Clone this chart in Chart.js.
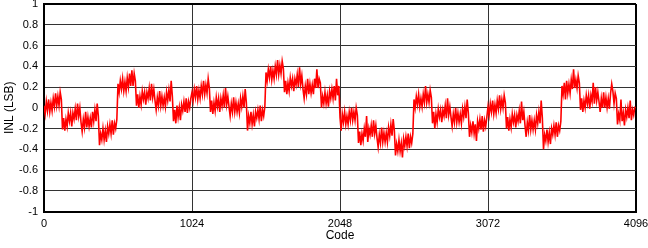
<!DOCTYPE html>
<html>
<head>
<meta charset="utf-8">
<script src="https://cdn.jsdelivr.net/npm/chart.js@4"></script>
<style>
  body { margin: 0; background: #fff; }
</style>
</head>
<body>
<canvas id="inl" width="648" height="248"></canvas>
<script>
// INL, one value every 8 codes (16 per 128-code segment)
const codeStep = 8;

const inlQ1 = [
  0.02, -0.06, 0.06, -0.03, 0.08, -0.04, 0.05, -0.03, 0.09, 0.01, 0.14, 0.02, 0.11, 0.02, 0.15, 0.08,
  -0.21, -0.10, -0.22, -0.11, -0.18, -0.05, -0.13, -0.05, -0.18, -0.05, -0.11, -0.01, -0.12, 0.04, -0.08, 0.00,
  -0.14, -0.23, -0.11, -0.19, -0.04, -0.19, -0.09, -0.18, -0.10, -0.19, -0.04, -0.13, -0.02, -0.13, 0.04, -0.08,
  -0.36, -0.25, -0.31, -0.20, -0.31, -0.22, -0.33, -0.18, -0.25, -0.16, -0.25, -0.12, -0.26, -0.15, -0.20, -0.11,
  0.23, 0.15, 0.26, 0.18, 0.28, 0.16, 0.25, 0.16, 0.29, 0.20, 0.33, 0.21, 0.36, 0.21, 0.33, 0.26,
  0.02, 0.13, 0.00, 0.11, 0.03, 0.16, 0.08, 0.15, 0.03, 0.15, 0.09, 0.19, 0.07, 0.23, 0.10, 0.18,
  0.07, -0.02, 0.10, 0.02, 0.16, 0.02, 0.11, 0.02, 0.10, 0.01, 0.15, 0.07, 0.17, 0.06, 0.26, 0.11,
  -0.13, -0.02, -0.15, 0.02, -0.09, 0.00, -0.12, 0.03, -0.03, 0.06, -0.04, 0.09, -0.05, 0.06, 0.00, 0.09
];
const inlQ2 = [
  0.15, 0.07, 0.18, 0.10, 0.21, 0.08, 0.17, 0.09, 0.21, 0.13, 0.26, 0.13, 0.22, 0.14, 0.28, 0.19,
  -0.04, 0.07, -0.06, 0.05, -0.03, 0.10, 0.01, 0.09, -0.04, 0.09, 0.02, 0.12, 0.00, 0.19, 0.03, 0.11,
  0.01, -0.08, 0.04, -0.04, 0.10, -0.04, 0.05, -0.04, 0.04, -0.05, 0.09, 0.01, 0.11, 0.00, 0.18, 0.05,
  -0.22, -0.08, -0.15, -0.04, -0.16, -0.07, -0.18, -0.04, -0.10, -0.02, -0.11, 0.02, -0.13, -0.02, -0.08, 0.01,
  0.34, 0.26, 0.37, 0.29, 0.40, 0.27, 0.36, 0.28, 0.40, 0.32, 0.46, 0.32, 0.41, 0.33, 0.45, 0.38,
  0.15, 0.26, 0.13, 0.24, 0.16, 0.29, 0.21, 0.28, 0.16, 0.28, 0.22, 0.32, 0.20, 0.39, 0.23, 0.31,
  0.18, 0.09, 0.21, 0.13, 0.28, 0.13, 0.23, 0.14, 0.22, 0.13, 0.28, 0.19, 0.37, 0.19, 0.28, 0.24,
  0.00, 0.11, 0.04, 0.15, 0.04, 0.12, 0.01, 0.16, 0.09, 0.18, 0.09, 0.21, 0.07, 0.28, 0.12, 0.21
];
const inlQ3 = [
  -0.09, -0.22, -0.06, -0.14, -0.04, -0.16, -0.08, -0.16, -0.04, -0.12, 0.00, -0.12, -0.04, -0.12, 0.00, -0.07,
  -0.34, -0.23, -0.36, -0.25, -0.32, -0.20, -0.28, -0.08, -0.33, -0.20, -0.26, -0.17, -0.28, -0.12, -0.25, -0.17,
  -0.29, -0.38, -0.26, -0.34, -0.19, -0.33, -0.24, -0.33, -0.24, -0.33, -0.19, -0.27, -0.16, -0.27, -0.11, -0.22,
  -0.46, -0.35, -0.42, -0.31, -0.42, -0.34, -0.48, -0.30, -0.37, -0.28, -0.37, -0.25, -0.39, -0.28, -0.34, -0.25,
  0.08, 0.00, 0.11, 0.03, 0.13, 0.01, 0.09, 0.01, 0.13, 0.05, 0.21, 0.05, 0.13, 0.05, 0.17, 0.10,
  -0.15, -0.04, -0.20, -0.06, -0.14, -0.01, -0.09, -0.02, -0.14, -0.02, -0.08, 0.02, -0.10, 0.09, -0.07, 0.01,
  -0.09, -0.18, -0.06, -0.14, 0.00, -0.14, -0.05, -0.14, -0.06, -0.15, -0.01, -0.09, 0.01, -0.10, 0.08, -0.05,
  -0.28, -0.17, -0.24, -0.13, -0.25, -0.16, -0.32, -0.13, -0.20, -0.11, -0.21, -0.08, -0.23, -0.12, -0.18, -0.09
];
const inlQ4 = [
  0.01, -0.07, 0.04, -0.04, 0.07, -0.06, 0.03, -0.05, 0.07, -0.01, 0.12, -0.01, 0.08, 0.00, 0.12, 0.05,
  -0.20, -0.09, -0.22, -0.11, -0.19, -0.06, -0.14, -0.07, -0.19, -0.07, -0.13, -0.03, -0.15, 0.06, -0.12, -0.04,
  -0.17, -0.28, -0.14, -0.22, -0.07, -0.21, -0.12, -0.21, -0.12, -0.21, -0.07, -0.15, -0.04, -0.15, 0.07, -0.10,
  -0.40, -0.26, -0.32, -0.21, -0.33, -0.24, -0.35, -0.20, -0.26, -0.17, -0.26, -0.14, -0.28, -0.17, -0.22, -0.13,
  0.21, 0.13, 0.24, 0.08, 0.26, 0.14, 0.23, 0.14, 0.27, 0.18, 0.37, 0.19, 0.27, 0.19, 0.31, 0.24,
  -0.02, 0.09, -0.04, 0.07, 0.00, 0.12, 0.04, 0.12, -0.01, 0.12, 0.06, 0.24, 0.04, 0.20, 0.07, 0.15,
  0.06, -0.04, 0.09, 0.00, 0.15, 0.00, 0.10, 0.00, 0.09, -0.01, 0.14, 0.23, 0.16, 0.04, 0.14, 0.09,
  -0.16, -0.06, -0.12, 0.08, -0.13, -0.05, -0.17, -0.02, -0.09, 0.00, -0.10, 0.07, -0.12, -0.02, -0.07, 0.01
];

const xTicks = [0, 1024, 2048, 3072, 4096];
const yTicks = [-1, -0.8, -0.6, -0.4, -0.2, 0, 0.2, 0.4, 0.6, 0.8, 1];

const inl = inlQ1.concat(inlQ2, inlQ3, inlQ4);
const points = inl.map((v, i) => ({ x: i * codeStep, y: v }));

const font = "'Liberation Sans', Arial, sans-serif";

const ctx = document.getElementById("inl").getContext("2d");
const chart = new Chart(ctx, {
  type: "line",
  data: {
    datasets: [
      {
        label: "INL",
        data: points,
        borderColor: "#ff0000",
        borderWidth: 1.6,
        pointRadius: 0,
        tension: 0,
        fill: false,
      },
    ],
  },
  options: {
    responsive: false,
    animation: false,
    events: [],
    layout: { padding: { top: 4, right: 12, left: 0, bottom: 0 } },
    plugins: {
      legend: { display: false },
      tooltip: { enabled: false },
    },
    scales: {
      x: {
        type: "linear",
        min: 0,
        max: 4096,
        afterBuildTicks: (axis) => {
          axis.ticks = xTicks.map((v) => ({ value: v }));
        },
        afterFit: (axis) => {
          axis.height = 36.5;
          axis.paddingLeft = 0;
          axis.paddingRight = 0;
        },
        ticks: {
          padding: 6,
          color: "#000",
          maxRotation: 0,
          font: { family: font, size: 11 },
          callback: (v) => String(v),
        },
        grid: {
          drawTicks: false,
          color: (c) => (c.tick && c.tick.value === 4096 ? "#000" : "#333"),
          lineWidth: (c) => (c.tick && c.tick.value === 4096 ? 2 : 1),
        },
        border: { display: true, color: "#000", width: 2 },
        title: {
          display: true,
          text: "Code",
          color: "#000",
          font: { family: font, size: 12 },
          padding: { top: 0, bottom: 5 },
        },
      },
      y: {
        min: -1,
        max: 1,
        afterBuildTicks: (axis) => {
          axis.ticks = yTicks.map((v) => ({ value: v }));
        },
        afterFit: (axis) => {
          axis.width = 44;
          axis.paddingTop = 0;
          axis.paddingBottom = 0;
        },
        ticks: {
          padding: 6,
          color: "#000",
          font: { family: font, size: 11 },
          callback: (v) => String(+v.toFixed(1)),
        },
        grid: {
          drawTicks: false,
          color: (c) => (c.tick && c.tick.value === 1 ? "#000" : "#333"),
          lineWidth: (c) => (c.tick && c.tick.value === 1 ? 2 : 1),
        },
        border: { display: true, color: "#000", width: 2 },
        title: {
          display: true,
          text: "INL (LSB)",
          color: "#000",
          font: { family: font, size: 12 },
          padding: { top: 2, bottom: 0 },
        },
      },
    },
  },
});
</script>
</body>
</html>
